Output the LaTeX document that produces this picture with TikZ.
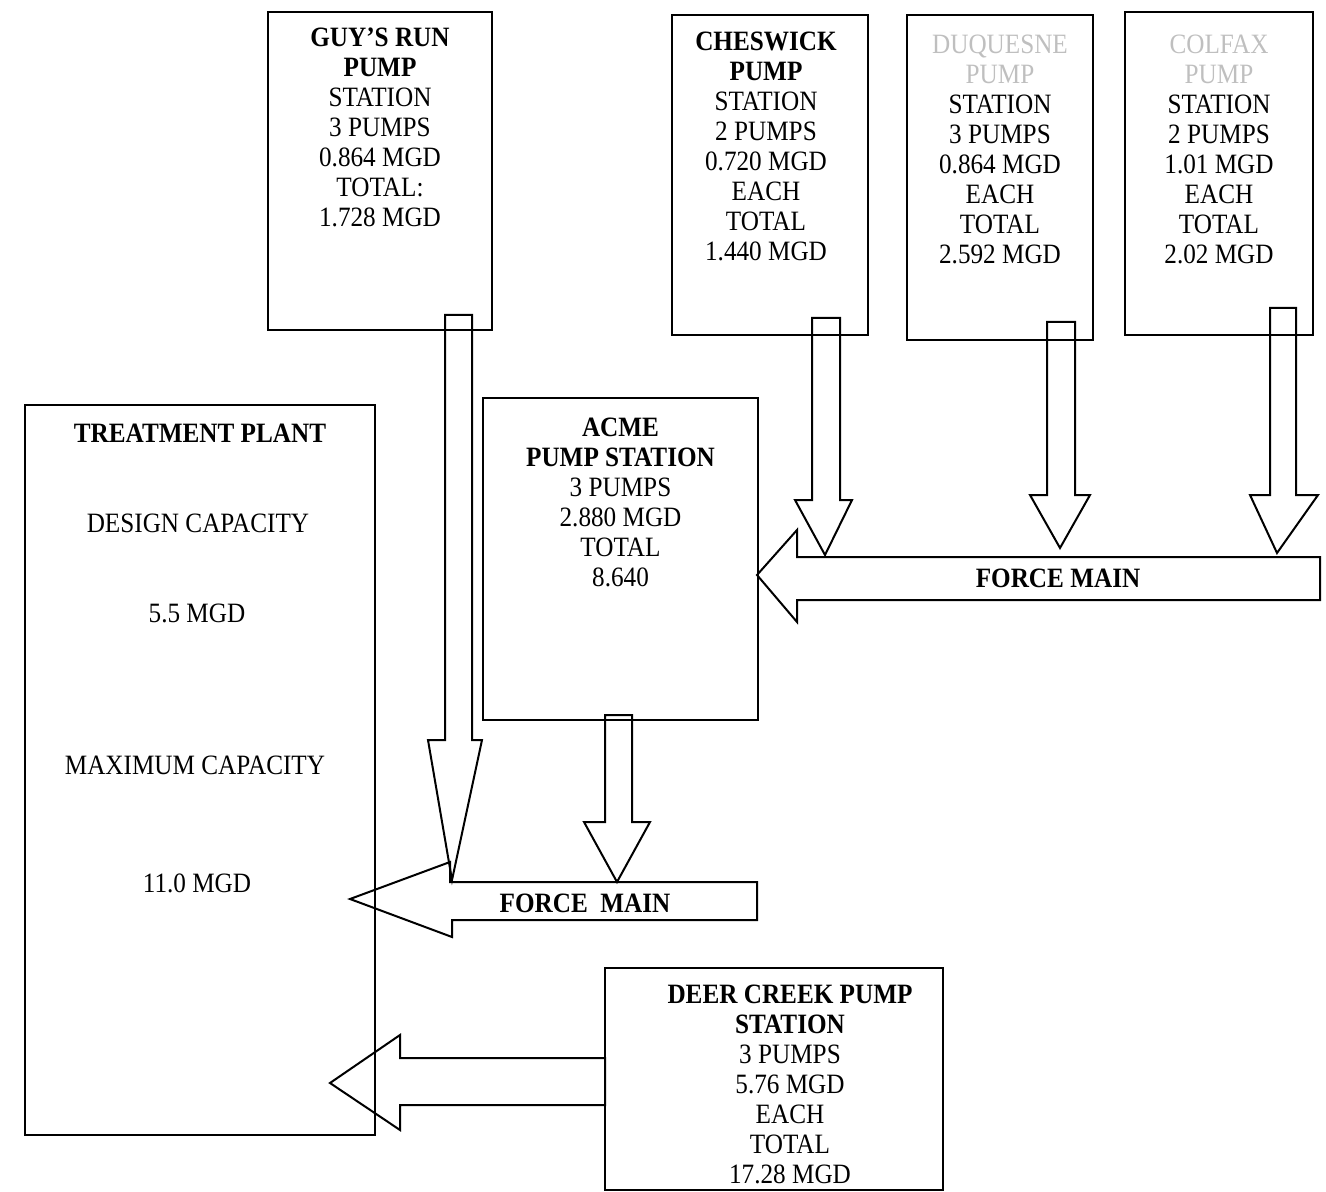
\documentclass[tikz,border=0pt]{standalone}
\usepackage{fontspec}
\setmainfont{Liberation Serif}[FakeStretch=0.9]
\usetikzlibrary{positioning}
\begin{document}
\begin{tikzpicture}[x=0.5pt,y=-0.5pt,
  box/.style={draw,line width=1pt,inner sep=0pt},
  lbl/.style={align=center,inner sep=0pt,font=\fontsize{14pt}{15pt}\selectfont},
  flow/.style={draw,line width=1pt,line join=miter}]
  \useasboundingbox (0,0) rectangle (1326,1192);
  % pump stations and plant
  \node[box,minimum width=112pt,minimum height=159pt] (guys) at (380,171) {};
  \node[box,minimum width=98pt,minimum height=160pt] (chesw) at (770,175) {};
  \node[box,minimum width=93pt,minimum height=162.5pt] (duq) at (1000,177.5) {};
  \node[box,minimum width=94pt,minimum height=161.5pt] (colfax) at (1219,173.5) {};
  \node[box,minimum width=175pt,minimum height=365pt] (plant) at (200,770) {};
  \node[box,minimum width=137.5pt,minimum height=161pt] (acme) at (620.5,559) {};
  \node[box,minimum width=169pt,minimum height=111pt] (deer) at (774,1079) {};
  % box texts
  \node[lbl,below=8pt of guys.north] (guystxt) {\textbf{GUY'S RUN}\\\textbf{PUMP}\\STATION\\3 PUMPS\\0.864 MGD\\TOTAL:\\1.728 MGD};
  \node[lbl,below=9pt of chesw.north,xshift=-2pt] (cheswtxt) {\textbf{CHESWICK}\\\textbf{PUMP}\\STATION\\2 PUMPS\\0.720 MGD\\EACH\\TOTAL\\1.440 MGD};
  \node[lbl,below=10.5pt of duq.north] (duqtxt) {\textcolor{black!25}{DUQUESNE}\\\textcolor{black!25}{PUMP}\\STATION\\3 PUMPS\\0.864 MGD\\EACH\\TOTAL\\2.592 MGD};
  \node[lbl,below=12pt of colfax.north] (colfaxtxt) {\textcolor{black!25}{COLFAX}\\\textcolor{black!25}{PUMP}\\STATION\\2 PUMPS\\1.01 MGD\\EACH\\TOTAL\\2.02 MGD};
  \node[lbl,below=10.5pt of acme.north] (acmetxt) {\textbf{ACME}\\\textbf{PUMP STATION}\\3 PUMPS\\2.880 MGD\\TOTAL\\8.640};
  \node[lbl,below=9pt of deer.north,xshift=8pt] (deertxt) {\textbf{DEER CREEK PUMP}\\\textbf{STATION}\\3 PUMPS\\5.76 MGD\\EACH\\TOTAL\\17.28 MGD};
  \node[lbl] (plant1) at (200,433) {\textbf{TREATMENT PLANT}};
  \node[lbl] (plant2) at (198,523) {DESIGN CAPACITY};
  \node[lbl] (plant3) at (197,613) {5.5 MGD};
  \node[lbl] (plant4) at (195,765) {MAXIMUM CAPACITY};
  \node[lbl] (plant5) at (197,883) {11.0 MGD};
  % flows
  \draw[flow] (445,315) -- (472,315) -- (472,740) -- (482,740) -- (452,880) -- (428,740) -- (445,740) -- cycle;
  \draw[flow] (605,715) -- (632,715) -- (632,822) -- (650,822) -- (617,882) -- (584,822) -- (605,822) -- cycle;
  \draw[flow] (812,318) -- (840,318) -- (840,500) -- (852,500) -- (825,555) -- (795,500) -- (812,500) -- cycle;
  \draw[flow] (1047,322) -- (1075,322) -- (1075,495) -- (1090,495) -- (1060,548) -- (1030,495) -- (1047,495) -- cycle;
  \draw[flow] (1270,308) -- (1296,308) -- (1296,495) -- (1318,495) -- (1277,553) -- (1250,495) -- (1270,495) -- cycle;
  \draw[flow] (1320,557) -- (797,557) -- (797,530) -- (757,575) -- (797,622) -- (797,600) -- (1320,600) -- cycle;
  \draw[flow] (757,882) -- (450,882) -- (450,862) -- (350,899) -- (452,937) -- (452,920) -- (757,920) -- cycle;
  \draw[flow] (605,1058) -- (400,1058) -- (400,1035) -- (330,1083) -- (400,1130) -- (400,1105) -- (605,1105) -- cycle;
  \node[lbl] (fm1) at (1058,578) {\textbf{FORCE MAIN}};
  \node[lbl] (fm2) at (585,903) {\textbf{FORCE\ \ MAIN}};
\end{tikzpicture}
\end{document}
